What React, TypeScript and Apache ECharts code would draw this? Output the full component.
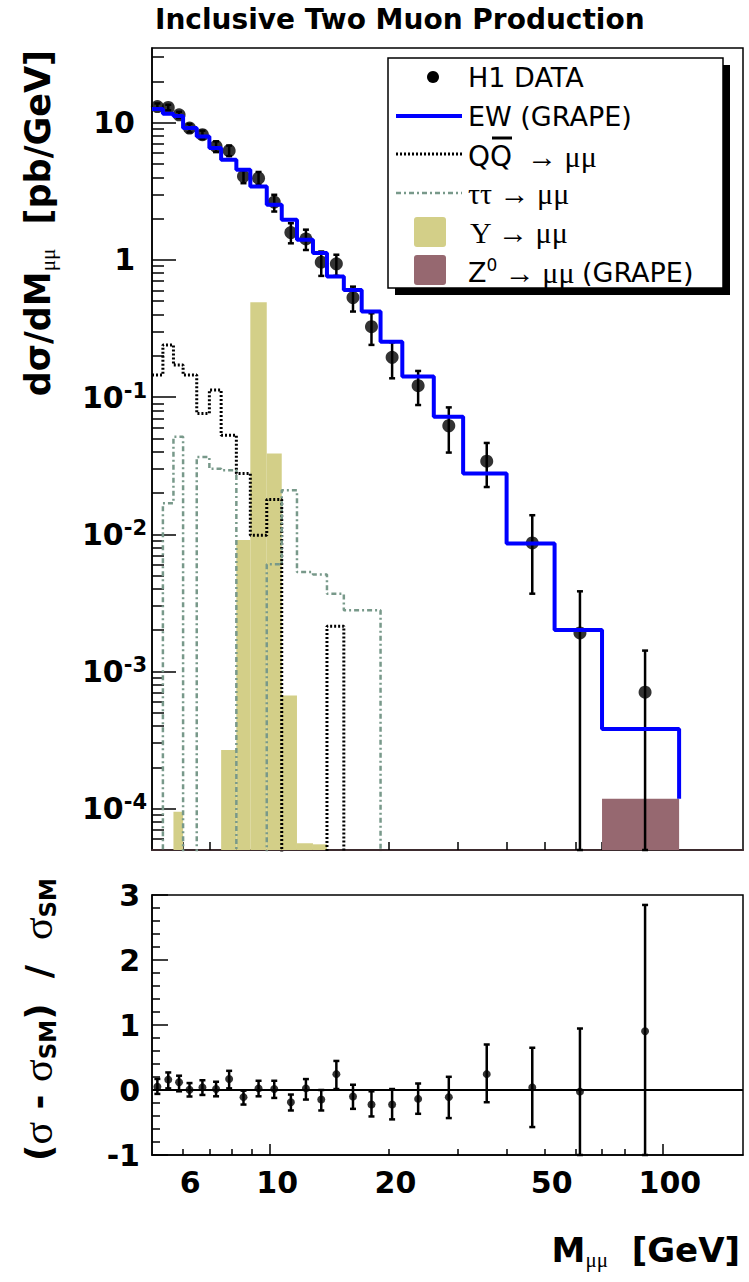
import React, { useEffect, useRef } from 'react';
import * as echarts from 'echarts';

// ---------- data ----------
const BIN_EDGES = [5.0, 5.33, 5.67, 6.0, 6.5, 7.0, 7.5, 8.2, 8.9, 9.8, 10.7, 11.7, 12.85, 13.95, 15.4, 17.1, 19.1, 21.7, 26.1, 31, 40, 53, 70, 110];

const DATA_MASS = [5.16, 5.5, 5.86, 6.23, 6.72, 7.28, 7.86, 8.55, 9.34, 10.24, 11.29, 12.33, 13.49, 14.74, 16.25, 18.11, 20.44, 23.81, 28.5, 35.6, 46.5, 61.5, 90.1];
const DATA_XSEC = [13.1, 12.9, 11.4, 9.14, 8.17, 6.71, 6.25, 4.06, 3.94, 2.64, 1.58, 1.42, 0.962, 0.935, 0.531, 0.326, 0.195, 0.121, 0.0618, 0.0341, 0.00865, 0.00191, 0.000706];
const DATA_UP = [13.8, 13.5, 12.0, 9.78, 8.74, 7.31, 6.81, 4.51, 4.37, 2.98, 1.85, 1.66, 1.15, 1.09, 0.638, 0.408, 0.251, 0.155, 0.0841, 0.0463, 0.01377, 0.00384, 0.00142];
const DATA_DOWN = [12.4, 12.3, 10.8, 8.5, 7.6, 6.1, 5.7, 3.62, 3.52, 2.25, 1.32, 1.18, 0.764, 0.764, 0.42, 0.24, 0.137, 0.0875, 0.0394, 0.0221, 0.00369, 0, 0];

const EW_XSEC = [12.6, 11.6, 11.2, 9.15, 7.94, 6.53, 5.37, 4.54, 3.43, 2.52, 1.96, 1.4, 1.12, 0.755, 0.604, 0.42, 0.253, 0.141, 0.0718, 0.0277, 0.00855, 0.00201, 0.000381];
const QQ_XSEC = [0.145, 0.24, 0.171, 0.145, 0.076, 0.1125, 0.0528, 0.0277, 0.00984, 0.0179, 0, 0, 0, 0.00214, 0, 0, 0, 0, 0, 0, 0, 0, 0];
const TAUTAU_XSEC = [0, 0.0168, 0.0513, 0, 0.0366, 0.03, 0.0293, 0, 0, 0.00604, 0.0209, 0.0053, 0.0051, 0.00368, 0.0028, 0.0028, 0, 0, 0, 0, 0, 0, 0];
const UPSILON_XSEC = [0, 0, 9.5e-5, 0, 0, 0, 2.68e-4, 0.0091, 0.49, 0.0388, 6.68e-4, 5.6e-5, 5.5e-5, 0, 0, 0, 0, 0, 0, 0, 0, 0, 0];
const Z0_XSEC = [0, 0, 0, 0, 0, 0, 0, 0, 0, 0, 0, 0, 0, 0, 0, 0, 0, 0, 0, 0, 0, 0, 1.18e-4];

const RATIO = [0.05, 0.16, 0.12, 0.005, 0.04, 0.015, 0.168, -0.11, 0.025, 0.015, -0.188, 0.025, -0.147, 0.244, -0.1, -0.224, -0.224, -0.137, -0.11, 0.244, 0.04, -0.025, 0.905];
const RATIO_UP = [0.17, 0.27, 0.22, 0.107, 0.15, 0.127, 0.295, -0.01, 0.142, 0.142, -0.07, 0.168, 0.0, 0.447, 0.081, -0.02, 0.015, 0.1, 0.203, 0.7, 0.65, 0.946, 2.847];
const RATIO_DOWN = [-0.06, 0.025, -0.02, -0.1, -0.076, -0.097, 0.025, -0.224, -0.097, -0.122, -0.315, -0.147, -0.315, 0.015, -0.29, -0.407, -0.452, -0.366, -0.432, -0.188, -0.57, -1, -1];

const X_LABELS = [6, 10, 20, 50, 100];
const X_MAJOR = [10, 100];
const X_MINOR = [6, 7, 8, 9, 20, 30, 40, 50, 60, 70, 80, 90];
const Y_DECADES = [-4, -3, -2, -1, 0, 1];
const RATIO_LABELS = [-1, 0, 1, 2, 3];

// ---------- helpers ----------
const lg = (v: number) => Math.log10(v);
const X_MIN = lg(5);
const X_MAX = lg(160);
const Y_MIN = lg(5e-5);
const Y_MAX = lg(35);
const FLOOR = Y_MIN - 2;

const SANS = '"DejaVu Sans", sans-serif';
const SERIF = '"Liberation Serif", serif';
const C_UPS = '#d3cf88';
const C_Z0 = '#966870';
const C_TAU = '#78998a';

function outline(vals: number[], endVal?: number): number[][] {
  const pts: number[][] = [];
  vals.forEach((v, i) => {
    const y = v > 0 ? lg(v) : FLOOR;
    pts.push([lg(BIN_EDGES[i]), y], [lg(BIN_EDGES[i + 1]), y]);
  });
  pts.push([lg(BIN_EDGES[BIN_EDGES.length - 1]), endVal && endVal > 0 ? lg(endVal) : FLOOR]);
  return pts;
}

function bars(vals: number[]): number[][] {
  const out: number[][] = [];
  vals.forEach((v, i) => {
    if (v > 0) out.push([lg(BIN_EDGES[i]), lg(BIN_EDGES[i + 1]), lg(v)]);
  });
  return out;
}

const barRender = (color: string, base: number) => (_p: any, api: any) => {
  const a = api.coord([api.value(0), api.value(2)]);
  const b = api.coord([api.value(1), base]);
  return { type: 'rect', shape: { x: a[0], y: a[1], width: b[0] - a[0], height: b[1] - a[1] }, style: { fill: color } };
};

const errRender = (cap: number, w: number) => (_p: any, api: any) => {
  const x = api.value(0);
  const lo = api.coord([x, api.value(1)]);
  const hi = api.coord([x, api.value(2)]);
  const st = { stroke: '#000', lineWidth: w };
  return {
    type: 'group',
    children: [
      { type: 'line', shape: { x1: lo[0], y1: lo[1], x2: hi[0], y2: hi[1] }, style: st },
      { type: 'line', shape: { x1: lo[0] - cap, y1: lo[1], x2: lo[0] + cap, y2: lo[1] }, style: st },
      { type: 'line', shape: { x1: hi[0] - cap, y1: hi[1], x2: hi[0] + cap, y2: hi[1] }, style: st },
    ],
  };
};

const tick = (vals: number[], len: number, w = 1.5) => ({
  show: true, inside: true, length: len, customValues: vals, lineStyle: { color: '#000', width: w },
});

const minorDecades: number[] = [];
for (let d = -5; d <= 1; d++) {
  for (let k = 2; k <= 9; k++) {
    const v = d + lg(k);
    if (v > Y_MIN && v < Y_MAX) minorDecades.push(v);
  }
}
const ratioMinor: number[] = [];
for (let i = -5; i <= 15; i++) {
  if (i % 5 !== 0) ratioMinor.push(i / 5);
}

const tickLabelStyle = { fontSize: 30, fontWeight: 'bold' as const, fontFamily: SANS, color: '#000' };
const noLine = { show: false, onZero: false };

export default function App() {
  const ref = useRef<HTMLDivElement>(null);
  useEffect(() => {
    document.body.style.margin = '0';
    if (!ref.current) return;
    const chart = echarts.init(ref.current, undefined, { renderer: 'svg' });

    const option: any = {
      animation: false,
      backgroundColor: '#fff',
      grid: [
        { left: 152, top: 48, width: 591, height: 802, show: true, borderColor: '#000', borderWidth: 1.5, backgroundColor: 'transparent' },
        { left: 152, top: 895, width: 591, height: 260, show: true, borderColor: '#000', borderWidth: 1.5, backgroundColor: 'transparent' },
      ],
      xAxis: [
        { gridIndex: 0, type: 'value', min: X_MIN, max: X_MAX, axisLine: { show: true, onZero: false, lineStyle: { color: '#3d2b2e', width: 2 } }, axisTick: tick(X_MAJOR.map(lg), 17), axisLabel: { show: false }, splitLine: { show: false } },
        { gridIndex: 0, type: 'value', min: X_MIN, max: X_MAX, position: 'bottom', axisLine: noLine, axisTick: tick(X_MINOR.map(lg), 8), axisLabel: { show: false }, splitLine: { show: false } },
        {
          gridIndex: 1, type: 'value', min: X_MIN, max: X_MAX, axisLine: { show: true, onZero: false, lineStyle: { color: '#000', width: 1.5 } }, axisTick: tick(X_MAJOR.map(lg), 11), splitLine: { show: false },
          axisLabel: { ...tickLabelStyle, customValues: X_LABELS.map(lg), margin: 12, padding: [0, 0, 0, 14], formatter: (v: number) => String(Math.round(Math.pow(10, v))) },
        },
        { gridIndex: 1, type: 'value', min: X_MIN, max: X_MAX, position: 'bottom', axisLine: noLine, axisTick: tick(X_MINOR.map(lg), 6), axisLabel: { show: false }, splitLine: { show: false } },
      ],
      yAxis: [
        {
          gridIndex: 0, type: 'value', min: Y_MIN, max: Y_MAX, axisLine: { show: true, onZero: false, lineStyle: { color: '#000', width: 1.5 } }, axisTick: tick(Y_DECADES, 24), splitLine: { show: false },
          axisLabel: {
            customValues: Y_DECADES, margin: 5,
            formatter: (v: number) => {
              const e = Math.round(v);
              if (e === 1) return '{bp|10}';
              if (e === 0) return '{bp|1}';
              return `{b|10}{s|${e}}`;
            },
            rich: {
              b: { ...tickLabelStyle, lineHeight: 34 },
              bp: { ...tickLabelStyle, lineHeight: 34, padding: [0, 12, 0, 0] },
              s: { fontSize: 21, fontWeight: 'bold', fontFamily: SANS, color: '#000', lineHeight: 12, verticalAlign: 'top' },
            },
          },
        },
        { gridIndex: 0, type: 'value', min: Y_MIN, max: Y_MAX, position: 'left', axisLine: noLine, axisTick: tick(minorDecades, 12), axisLabel: { show: false }, splitLine: { show: false } },
        {
          gridIndex: 1, type: 'value', min: -1, max: 3, axisLine: { show: true, onZero: false, lineStyle: { color: '#000', width: 1.5 } }, axisTick: tick(RATIO_LABELS, 16), splitLine: { show: false },
          axisLabel: { ...tickLabelStyle, customValues: RATIO_LABELS, margin: 12, formatter: (v: number) => String(Math.round(v)) },
        },
        { gridIndex: 1, type: 'value', min: -1, max: 3, position: 'left', axisLine: noLine, axisTick: tick(ratioMinor, 8), axisLabel: { show: false }, splitLine: { show: false } },
      ],
      series: [
        { type: 'custom', name: 'Upsilon', xAxisIndex: 0, yAxisIndex: 0, silent: true, data: bars(UPSILON_XSEC), encode: { x: [0, 1], y: 2 }, renderItem: barRender(C_UPS, Y_MIN) },
        { type: 'line', name: 'QQ', xAxisIndex: 0, yAxisIndex: 0, silent: true, symbol: 'none', clip: true, data: outline(QQ_XSEC), lineStyle: { color: '#000', width: 3, type: [2, 2] } },
        { type: 'line', name: 'tautau', xAxisIndex: 0, yAxisIndex: 0, silent: true, symbol: 'none', clip: true, data: outline(TAUTAU_XSEC), lineStyle: { color: C_TAU, width: 2.5, type: [5, 3, 2, 3] } },
        { type: 'line', name: 'EW', xAxisIndex: 0, yAxisIndex: 0, silent: true, symbol: 'none', clip: true, data: outline(EW_XSEC, Z0_XSEC[Z0_XSEC.length - 1]), lineStyle: { color: '#0000ff', width: 4 } },
        { type: 'custom', name: 'Z0', xAxisIndex: 0, yAxisIndex: 0, silent: true, data: bars(Z0_XSEC), encode: { x: [0, 1], y: 2 }, renderItem: barRender(C_Z0, Y_MIN) },
        {
          type: 'custom', name: 'dataErr', xAxisIndex: 0, yAxisIndex: 0, silent: true, encode: { x: 0, y: [1, 2] },
          data: DATA_MASS.map((m, i) => [lg(m), DATA_DOWN[i] > 0 ? lg(DATA_DOWN[i]) : Y_MIN, lg(DATA_UP[i])]),
          renderItem: errRender(3, 2.5),
        },
        { type: 'scatter', name: 'H1 DATA', xAxisIndex: 0, yAxisIndex: 0, silent: true, symbol: 'circle', symbolSize: 13, itemStyle: { color: '#000' }, data: DATA_MASS.map((m, i) => [lg(m), lg(DATA_XSEC[i])]) },
        {
          type: 'custom', name: 'ratioErr', xAxisIndex: 2, yAxisIndex: 2, silent: true, encode: { x: 0, y: [1, 2] },
          data: DATA_MASS.map((m, i) => [lg(m), RATIO_DOWN[i], RATIO_UP[i]]),
          renderItem: errRender(3, 2.5),
        },
        {
          type: 'scatter', name: 'ratio', xAxisIndex: 2, yAxisIndex: 2, silent: true, symbol: 'circle', symbolSize: 8, itemStyle: { color: '#000' },
          data: DATA_MASS.map((m, i) => [lg(m), RATIO[i]]),
          markLine: { silent: true, symbol: 'none', label: { show: false }, lineStyle: { color: '#000', width: 2, type: 'solid' }, data: [{ yAxis: 0 }] },
        },
      ],
      graphic: [
        { type: 'text', x: 155, y: 19, style: { text: 'Inclusive Two Muon Production', font: `bold 28px ${SANS}`, fill: '#000', align: 'left', verticalAlign: 'middle' } },
        {
          type: 'text', x: 38, y: 50, rotation: Math.PI / 2,
          style: {
            text: '{a|dσ/dM}{s|μμ}{a|  [pb/GeV]}', align: 'right', verticalAlign: 'middle', fill: '#000',
            rich: {
              a: { fontSize: 35, fontWeight: 'bold', fontFamily: SANS, lineHeight: 40 },
              s: { fontSize: 21, fontFamily: SERIF, lineHeight: 14, verticalAlign: 'bottom' },
            },
          },
        },
        {
          type: 'text', x: 38, y: 878, rotation: Math.PI / 2,
          style: {
            text: '{a|(}{g|σ}{a| - }{g|σ}{s|SM}{a|)  /  }{g|σ}{s|SM}', align: 'right', verticalAlign: 'middle', fill: '#000',
            rich: {
              a: { fontSize: 36, fontWeight: 'bold', fontFamily: SANS, lineHeight: 42 },
              g: { fontSize: 42, fontFamily: SERIF, lineHeight: 42 },
              s: { fontSize: 23, fontWeight: 'bold', fontFamily: SANS, lineHeight: 16, verticalAlign: 'bottom' },
            },
          },
        },
        {
          type: 'text', x: 740, y: 1250,
          style: {
            text: '{a|M}{s|μμ}{a|  [GeV]}', align: 'right', verticalAlign: 'middle', fill: '#000',
            rich: {
              a: { fontSize: 34, fontWeight: 'bold', fontFamily: SANS, lineHeight: 40 },
              s: { fontSize: 21, fontFamily: SERIF, lineHeight: 14, verticalAlign: 'bottom' },
            },
          },
        },
        // legend
        { type: 'rect', shape: { x: 395, y: 65, width: 335, height: 230 }, style: { fill: '#000' } },
        { type: 'rect', shape: { x: 388, y: 58, width: 335, height: 230 }, style: { fill: '#fff', stroke: '#000', lineWidth: 1.5 } },
        { type: 'circle', shape: { cx: 433, cy: 77, r: 6 }, style: { fill: '#000' } },
        { type: 'line', shape: { x1: 396, y1: 116, x2: 462, y2: 116 }, style: { stroke: '#0000ff', lineWidth: 4 } },
        { type: 'line', shape: { x1: 396, y1: 154, x2: 462, y2: 154 }, style: { stroke: '#000', lineWidth: 3, lineDash: [2, 2] } },
        { type: 'line', shape: { x1: 396, y1: 193, x2: 462, y2: 193 }, style: { stroke: C_TAU, lineWidth: 2.5, lineDash: [5, 3, 2, 3] } },
        { type: 'rect', shape: { x: 414, y: 217, width: 32, height: 30, r: 3 }, style: { fill: C_UPS } },
        { type: 'rect', shape: { x: 414, y: 255, width: 32, height: 30, r: 3 }, style: { fill: C_Z0 } },
        { type: 'text', x: 468, y: 77, style: { text: 'H1 DATA', font: `27px ${SANS}`, fill: '#000', verticalAlign: 'middle' } },
        { type: 'text', x: 468, y: 116, style: { text: 'EW (GRAPE)', font: `27px ${SANS}`, fill: '#000', verticalAlign: 'middle' } },
        {
          type: 'text', x: 468, y: 156,
          style: { text: '{q|QQ}{g|  → μμ}', fill: '#000', verticalAlign: 'middle', rich: { q: { fontSize: 28, fontFamily: SANS }, g: { fontSize: 30, fontFamily: SERIF } } },
        },
        { type: 'line', shape: { x1: 492, y1: 138, x2: 512, y2: 138 }, style: { stroke: '#000', lineWidth: 3 } },
        { type: 'text', x: 468, y: 193, style: { text: 'ττ → μμ', font: `30px ${SERIF}`, fill: '#000', verticalAlign: 'middle' } },
        { type: 'text', x: 470, y: 232, style: { text: 'Υ → μμ', font: `30px ${SERIF}`, fill: '#000', verticalAlign: 'middle' } },
        {
          type: 'text', x: 468, y: 272,
          style: {
            text: '{z|Z}{u|0}{g| → μμ }{z|(GRAPE)}', fill: '#000', verticalAlign: 'middle',
            rich: {
              z: { fontSize: 27, fontFamily: SANS, lineHeight: 32 },
              u: { fontSize: 17, fontFamily: SANS, lineHeight: 14, verticalAlign: 'top' },
              g: { fontSize: 30, fontFamily: SERIF, lineHeight: 32 },
            },
          },
        },
      ],
    };
    chart.setOption(option);
    return () => chart.dispose();
  }, []);
  return <div ref={ref} style={{ width: 749, height: 1282 }} />;
}
